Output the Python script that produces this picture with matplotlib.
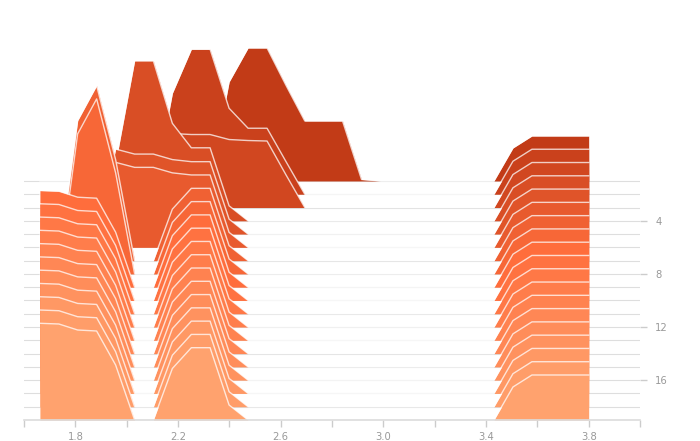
import matplotlib
matplotlib.use("Agg")
import matplotlib.pyplot as plt
from matplotlib.colors import LinearSegmentedColormap
import numpy as np

# x positions shared by all rows
x = [1.662, 1.736, 1.809, 1.883, 1.957, 2.031, 2.104, 2.178, 2.252, 2.325,
     2.399, 2.473, 2.547, 2.620, 2.694, 2.768, 2.841, 2.915, 2.989, 3.063,
     3.136, 3.210, 3.284, 3.357, 3.431, 3.505, 3.579, 3.652, 3.726, 3.800]

# row values, row 1 at top
row1 = [0, 0, 0, 0, 0, 0, 0, 0, 0, 0, 99, 133, 133, 96, 60, 60, 60, 1.5, 0, 0, 0, 0, 0, 0, 0, 33, 45, 45, 45, 45]
row2 = [0, 0, 0, 0, 0, 0, 0, 101, 145, 145, 86, 66, 66, 33, 0, 0, 0, 0, 0, 0, 0, 0, 0, 0, 0, 33, 45, 45, 45, 45]
row3 = [0, 0, 0, 0, 0, 0, 0, 74, 73, 73, 68, 67, 66.5, 33, 0, 0, 0, 0, 0, 0, 0, 0, 0, 0, 0, 33, 45, 45, 45, 45]
row4 = [0, 0, 0, 0, 58, 160, 160, 97.5, 73, 73, 15, 0, 0, 0, 0, 0, 0, 0, 0, 0, 0, 0, 0, 0, 0, 33, 45, 45, 45, 45]
row5 = [0, 0, 0, 0, 85, 80, 80, 74.5, 72.4, 72.4, 15, 0, 0, 0, 0, 0, 0, 0, 0, 0, 0, 0, 0, 0, 0, 33, 45, 45, 45, 45]
row6 = [0, 0, 0, 0, 85, 80, 80, 74.5, 72.4, 72.4, 15, 0, 0, 0, 0, 0, 0, 0, 0, 0, 0, 0, 0, 0, 0, 33, 45, 45, 45, 45]
row7 = [0, 0, 140, 175, 101, 0, 0, 51.5, 72.3, 72.3, 15, 0, 0, 0, 0, 0, 0, 0, 0, 0, 0, 0, 0, 0, 0, 33, 45, 45, 45, 45]
row8 = [0, 0, 140, 175, 101, 0, 0, 51.5, 72.3, 72.3, 15, 0, 0, 0, 0, 0, 0, 0, 0, 0, 0, 0, 0, 0, 0, 33, 45, 45, 45, 45]
row9 = [96.7, 96, 90, 89, 55, 0, 0, 51.5, 72.3, 72.3, 15, 0, 0, 0, 0, 0, 0, 0, 0, 0, 0, 0, 0, 0, 0, 33, 45, 45, 45, 45]
row10 = [96.7, 96, 90, 89, 55, 0, 0, 51.5, 72.3, 72.3, 15, 0, 0, 0, 0, 0, 0, 0, 0, 0, 0, 0, 0, 0, 0, 33, 45, 45, 45, 45]
row11 = [96.7, 96, 90, 89, 55, 0, 0, 51.5, 72.3, 72.3, 15, 0, 0, 0, 0, 0, 0, 0, 0, 0, 0, 0, 0, 0, 0, 33, 45, 45, 45, 45]
row12 = [96.7, 96, 90, 89, 55, 0, 0, 51.5, 72.3, 72.3, 15, 0, 0, 0, 0, 0, 0, 0, 0, 0, 0, 0, 0, 0, 0, 33, 45, 45, 45, 45]
row13 = [96.7, 96, 90, 89, 55, 0, 0, 51.5, 72.3, 72.3, 15, 0, 0, 0, 0, 0, 0, 0, 0, 0, 0, 0, 0, 0, 0, 33, 45, 45, 45, 45]
row14 = [96.7, 96, 90, 89, 55, 0, 0, 51.5, 72.3, 72.3, 15, 0, 0, 0, 0, 0, 0, 0, 0, 0, 0, 0, 0, 0, 0, 33, 45, 45, 45, 45]
row15 = [96.7, 96, 90, 89, 55, 0, 0, 51.5, 72.3, 72.3, 15, 0, 0, 0, 0, 0, 0, 0, 0, 0, 0, 0, 0, 0, 0, 33, 45, 45, 45, 45]
row16 = [96.7, 96, 90, 89, 55, 0, 0, 51.5, 72.3, 72.3, 15, 0, 0, 0, 0, 0, 0, 0, 0, 0, 0, 0, 0, 0, 0, 33, 45, 45, 45, 45]
row17 = [96.7, 96, 90, 89, 55, 0, 0, 51.5, 72.3, 72.3, 15, 0, 0, 0, 0, 0, 0, 0, 0, 0, 0, 0, 0, 0, 0, 33, 45, 45, 45, 45]
row18 = [96.7, 96, 90, 89, 55, 0, 0, 51.5, 72.3, 72.3, 15, 0, 0, 0, 0, 0, 0, 0, 0, 0, 0, 0, 0, 0, 0, 33, 45, 45, 45, 45]
row19 = [96.7, 96, 90, 89, 55, 0, 0, 51.5, 72.3, 72.3, 15, 0, 0, 0, 0, 0, 0, 0, 0, 0, 0, 0, 0, 0, 0, 33, 45, 45, 45, 45]

rows = [row1, row2, row3, row4, row5, row6, row7, row8, row9, row10,
        row11, row12, row13, row14, row15, row16, row17, row18, row19]

xticks_major = [1.8, 2.2, 2.6, 3.0, 3.4, 3.8]
xticks_minor = [1.6, 2.0, 2.4, 2.8, 3.2, 3.6, 4.0]
yticks = [4, 8, 12, 16]

unit = 13.28  # value units per row spacing

cmap = LinearSegmentedColormap.from_list(
    "ridge", [(0, "#c23b17"), (8 / 18, "#ff6d3c"), (1, "#ffa26e")])

W, H = 700, 441
fig = plt.figure(figsize=(W / 100, H / 100), dpi=100)
ax_h = 390
ax = fig.add_axes([24 / W, 21 / H, 616 / W, ax_h / H])

n = len(rows)
for i in range(1, n):
    ax.axhline(i, color="#dedede", lw=0.8, zorder=0)

xs = np.array(x)
for i, vals in enumerate(rows):
    base = i + 1
    top = base - np.array(vals) / unit
    col = cmap(i / (n - 1))
    ax.fill_between(xs, base, top, color=col, lw=0, zorder=2 + i * 0.01)
    ax.plot(xs, top, color="white", lw=1, alpha=0.75, zorder=2 + i * 0.01 + 0.005)

ax.set_xlim(1.6, 4.0)
ax.set_ylim(n, n - ax_h / unit)

for s in ["top", "left", "right"]:
    ax.spines[s].set_visible(False)
ax.spines["bottom"].set_color("#dcdcdc")
ax.spines["bottom"].set_linewidth(1.2)

ax.set_xticks(xticks_major)
ax.set_xticklabels([f"{v:.1f}" for v in xticks_major])
ax.set_xticks(xticks_minor, minor=True)
ax.tick_params(axis="x", which="both", length=5, color="#cccccc", width=1,
               labelsize=7.2, labelcolor="#999999", pad=4)

ax.yaxis.tick_right()
ax.set_yticks(yticks)
ax.set_yticklabels([str(v) for v in yticks])
ax.tick_params(axis="y", which="both", length=5, color="#cccccc", width=1,
               labelsize=7.2, labelcolor="#999999", pad=6)

fig.savefig("out.png", dpi=100, facecolor="white")
